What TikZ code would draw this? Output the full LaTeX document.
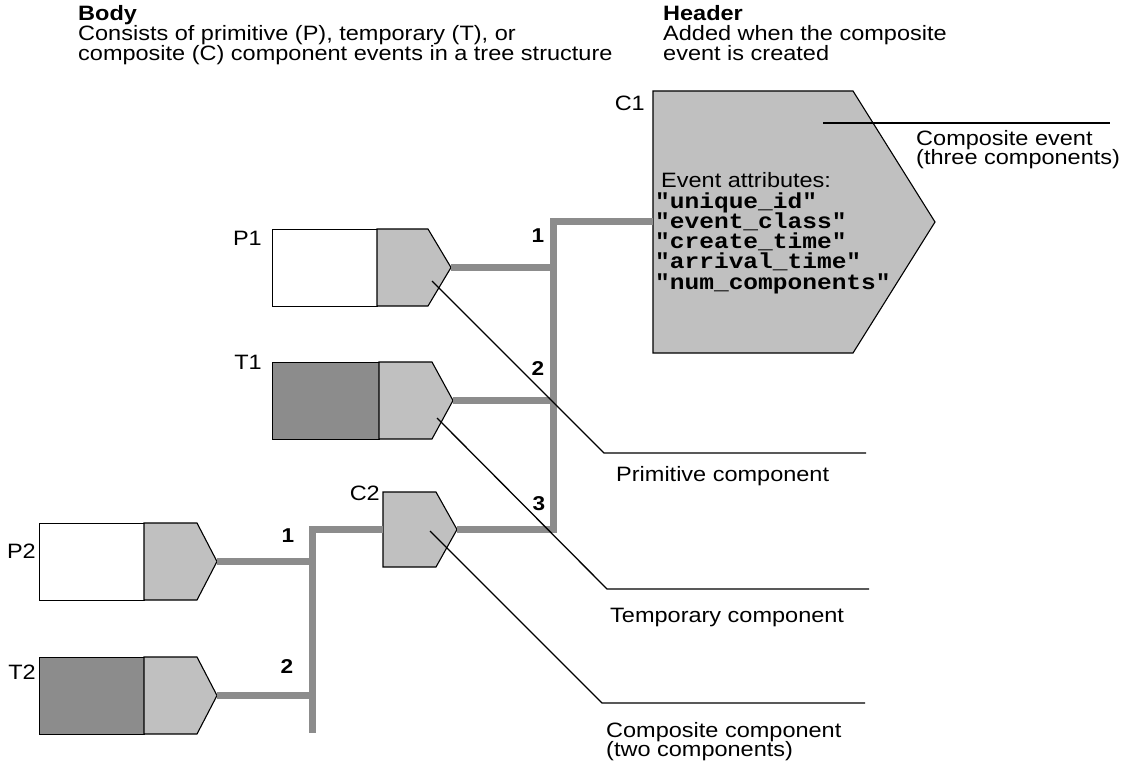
\documentclass[tikz,border=0pt]{standalone}
\usepackage{fontspec}
\setmainfont{Liberation Sans}[FakeStretch=1.13]
\setmonofont{Liberation Mono}[FakeStretch=1.13]

\definecolor{headgray}{HTML}{C0C0C0}
\definecolor{bodygray}{HTML}{8C8C8C}
\definecolor{linkgray}{HTML}{8C8C8C}

\tikzset{
  txt/.style={font=\fontsize{20.8}{19}\selectfont, inner sep=0pt, anchor=base west},
  tag/.style={font=\fontsize{20.8}{20}\selectfont, inner sep=0pt, anchor=base east},
  num/.style={font=\bfseries\fontsize{20}{20}\selectfont, inner sep=0pt, anchor=base},
  attr/.style={font=\ttfamily\bfseries\fontsize{21.7}{21}\selectfont, inner sep=0pt, anchor=base west},
  head/.style={draw=black, line width=1.1pt, fill=headgray, line join=miter},
  bodybox/.style={draw=black, line width=1.1pt, inner sep=0pt, anchor=north west, minimum height=77pt},
  link/.style={draw=linkgray, line width=7pt},
  leader/.style={draw=black, line width=1.3pt},
  % event header: a pentagon pointing right (width, point length, height)
  pics/evhead/.style n args={3}{code={
    \draw[head] (0,0) -- (#1,0) -- ({#1+#2},{#3/2}) -- (#1,#3) -- (0,#3) -- cycle;
    \coordinate (-tip) at ({#1+#2},{#3/2});
    \coordinate (-west) at (0,{#3/2});
  }},
}

\begin{document}
\begin{tikzpicture}[x=1pt, y=-1pt]
\useasboundingbox (0,0) rectangle (1129,767);

% titles
\node[txt, font=\bfseries\fontsize{20.8}{19}\selectfont] (bodyT) at (78,21) {Body};
\node[txt] (bodyL1) at (78,40.5) {Consists of primitive (P), temporary (T), or};
\node[txt] (bodyL2) at (78,61) {composite (C) component events in a tree structure};
\node[txt, font=\bfseries\fontsize{20.8}{19}\selectfont] (headT) at (663,21) {Header};
\node[txt] (headL1) at (663,40.5) {Added when the composite};
\node[txt] (headL2) at (663,61) {event is created};

% event bodies
\node[bodybox, fill=white,    minimum width=105pt] (P1) at (272,229) {};
\node[bodybox, fill=bodygray, minimum width=107pt] (T1) at (272,362) {};
\node[bodybox, fill=white,    minimum width=105pt] (P2) at (39,523) {};
\node[bodybox, fill=bodygray, minimum width=105pt] (T2) at (39,657) {};

% event headers
\pic (C1h) at (653,91)  {evhead={200}{82}{262}};
\pic (P1h) at (377,229) {evhead={51}{23}{77}};
\pic (T1h) at (379,362) {evhead={53}{21}{77}};
\pic (C2h) at (383,492) {evhead={53}{21}{75}};
\pic (P2h) at (144,523) {evhead={53}{20}{77}};
\pic (T2h) at (144,657) {evhead={53}{20}{77}};

% event names
\node[tag] (C1lab) at (645,111) {C1};
\node[tag] (P1lab) at (262,246) {P1};
\node[tag] (T1lab) at (262,369) {T1};
\node[tag] (C2lab) at (380,500) {C2};
\node[tag] (P2lab) at (36,558)  {P2};
\node[tag] (T2lab) at (36,679)  {T2};

% attributes of C1
\node[txt] (attrT) at (661,188) {Event attributes:};
\node[attr] (a1) at (655,209) {"unique\_id"};
\node[attr] (a2) at (655,229) {"event\_class"};
\node[attr] (a3) at (655,249) {"create\_time"};
\node[attr] (a4) at (655,269) {"arrival\_time"};
\node[attr] (a5) at (655,289) {"num\_components"};

% component tree of C1
\draw[link] (C1h-west) -- ++(-100,0) coordinate (trunkA) -- (trunkA |- C2h-tip) -- (C2h-tip);
\draw[link] (P1h-tip) -- (P1h-tip -| trunkA);
\draw[link] (T1h-tip) -- (T1h-tip -| trunkA);
\node[num] (n1) at (538,243) {1};
\node[num] (n2) at (538,375) {2};
\node[num] (n3) at (539,510) {3};

% component tree of C2
\draw[link] (C2h-west) -- ++(-71,0) coordinate (trunkB) -- ++(0,203);
\draw[link] (P2h-tip) -- (P2h-tip -| trunkB);
\draw[link] (T2h-tip) -- (T2h-tip -| trunkB);
\node[num] (m1) at (288,542) {1};
\node[num] (m2) at (287,673) {2};

% callouts
\coordinate (C1pt) at (823,123);
\coordinate (C1end) at (1110,123);
\draw[leader] (C1pt) -- (C1end);
\node[txt] (C1d1) at (916,146) {Composite event};
\node[txt] (C1d2) at (916,165) {(three components)};

\coordinate (P1pt) at (432,281);
\coordinate (P1bend) at (604,453);
\coordinate (P1end) at (866,453);
\draw[leader] (P1pt) -- (P1bend) -- (P1end);
\node[txt] (P1d) at (616,481) {Primitive component};

\coordinate (T1pt) at (437,418);
\coordinate (T1bend) at (607,589);
\coordinate (T1end) at (869,589);
\draw[leader] (T1pt) -- (T1bend) -- (T1end);
\node[txt] (T1d) at (610,622) {Temporary component};

\coordinate (C2pt) at (430,531);
\coordinate (C2bend) at (602,703);
\coordinate (C2end) at (865,703);
\draw[leader] (C2pt) -- (C2bend) -- (C2end);
\node[txt] (C2d1) at (606,737) {Composite component};
\node[txt] (C2d2) at (606,756) {(two components)};
\end{tikzpicture}
\end{document}
